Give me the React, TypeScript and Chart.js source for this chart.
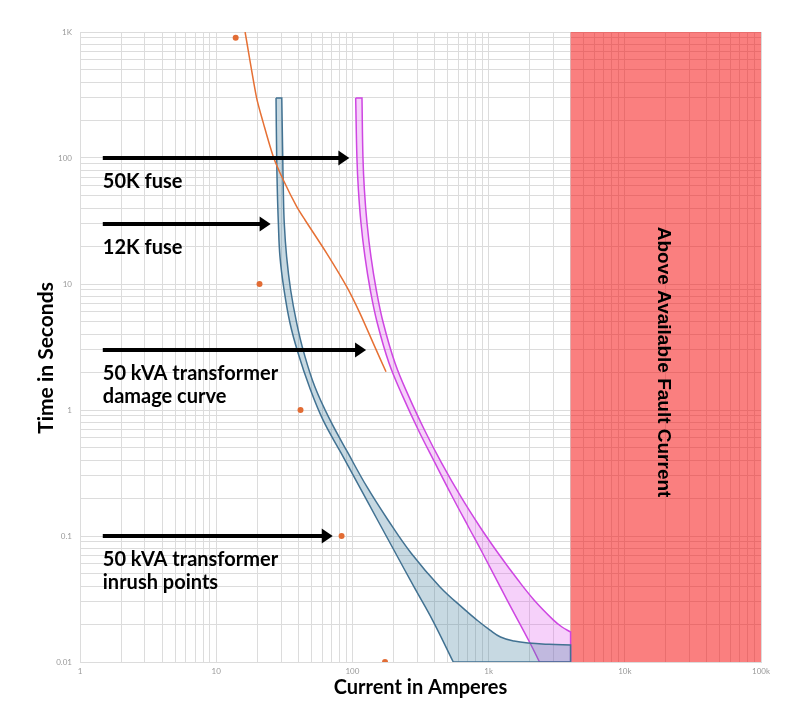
import React, { useEffect, useRef } from 'react';
import { Chart, registerables } from 'chart.js';

Chart.register(...registerables);

// Axis decades and tick labels
const xDecades = [1, 10, 100, 1000, 10000, 100000];
const xTickLabels = ['1', '10', '100', '1k', '10k', '100k'];
const yDecades = [0.01, 0.1, 1, 10, 100, 1000];
const yTickLabels = ['0.01', '0.1', '1', '10', '100', '1K'];
const gridMultipliers = [1, 2, 3, 4, 5, 6, 7, 8, 9];

// 12K fuse: minimum melt (left) and total clearing (right) curves
const fuse12MinI = [27.5, 27.8, 28.1, 28.6, 29.4, 31.5, 34.8, 39.9, 48.4, 60.8, 82.5, 112.8, 152.9, 207.2, 283.4, 387.4, 550.6];
const fuse12MinT = [300, 102, 55.7, 30.5, 16.4, 8.96, 4.9, 2.83, 1.52, 0.834, 0.456, 0.245, 0.134, 0.0733, 0.0394, 0.0215, 0.01];
const fuse12MaxI = [30.3, 30.8, 31.1, 31.6, 32.9, 35.2, 39.0, 44.1, 53.1, 68.5, 92.8, 128, 182.5, 269.3, 439.8, 671, 822, 1024, 1223, 1537, 1947, 2776, 4000];
const fuse12MaxT = [300, 102, 55.7, 30.5, 16.4, 8.96, 4.9, 2.83, 1.52, 0.834, 0.456, 0.245, 0.134, 0.0733, 0.0394, 0.0259, 0.0215, 0.0179, 0.0158, 0.01468, 0.01415, 0.01382, 0.01365];

// 50K fuse
const fuse50MinI = [105.7, 107.9, 110.7, 115.6, 123.7, 135.3, 152.3, 185.6, 235.3, 304.7, 404, 543.1, 711.9, 902.2, 1365, 2014, 2364];
const fuse50MinT = [300, 102, 55.7, 30.5, 16.4, 8.96, 4.9, 2.36, 1.27, 0.694, 0.38, 0.204, 0.1179, 0.0733, 0.0311, 0.01415, 0.01];
const fuse50MaxI = [117.6, 119.5, 122.5, 128.0, 136.9, 149.8, 168.6, 205.5, 260.3, 338.3, 451.1, 627.2, 864.9, 1172, 1644, 2154, 2996, 3458, 4000];
const fuse50MaxT = [300, 102, 55.7, 30.5, 16.4, 8.96, 4.9, 2.36, 1.27, 0.694, 0.38, 0.204, 0.1179, 0.0733, 0.0447, 0.0311, 0.0215, 0.01896, 0.0173];

// 50 kVA transformer damage curve
const damageI = [16.3, 19.8, 22.2, 26.3, 31.1, 39.0, 44.9, 64.8, 90.8, 113.7, 142.4, 176.5];
const damageT = [1000, 300, 189, 102, 66.9, 41.1, 32.2, 17.5, 9.52, 5.85, 3.38, 2.01];

// 50 kVA transformer inrush points
const inrushI = [13.9, 20.8, 41.6, 83.3, 173.6];
const inrushT = [900, 10, 1, 0.1, 0.01];

// Available fault current region
const faultI = [4000, 100000];
const faultT = [0.01, 1000];
const faultLabel = 'Above Available Fault Current';
const faultLabelI = 19000;
const faultLabelT = 2.4;

// Axis titles
const xTitle = 'Current in Amperes';
const yTitle = 'Time in Seconds';

// Annotation arrows
const arrowStartI = 1.47;
const arrowTipI = [95, 25.1, 126, 71.7];
const arrowT = [100, 30, 3, 0.1];
const arrowLabels = [
  ['50K fuse'],
  ['12K fuse'],
  ['50 kVA transformer', 'damage curve'],
  ['50 kVA transformer', 'inrush points'],
];

type P = { x: number; y: number };
const pts = (xs: number[], ys: number[]): P[] => xs.map((v, i) => ({ x: v, y: ys[i] }));

// Closed polygon; corner points are doubled so the spline keeps sharp corners there.
const band = (minI: number[], minT: number[], maxI: number[], maxT: number[]) => {
  const left = pts(minI, minT);
  const right = pts(maxI, maxT).reverse();
  const corner = { x: maxI[maxI.length - 1], y: minT[minT.length - 1] };
  const poly: P[] = [];
  poly.push(left[0]);
  left.forEach((p) => poly.push(p));
  poly.push(left[left.length - 1]);
  poly.push(corner, corner);
  poly.push(right[0]);
  right.forEach((p) => poly.push(p));
  poly.push(right[right.length - 1]);
  poly.push(left[0], left[0]);
  return poly;
};

const gridValues = (decades: number[]) => {
  const out: number[] = [];
  decades.forEach((d, i) => {
    if (i === decades.length - 1) {
      out.push(d);
    } else {
      gridMultipliers.forEach((m) => out.push(parseFloat((m * d).toPrecision(6))));
    }
  });
  return out;
};

const labelFor = (value: number, decades: number[], labels: string[]) => {
  const i = decades.findIndex((d) => Math.abs(value / d - 1) < 1e-6);
  return i >= 0 ? labels[i] : '';
};

const annotationPlugin = {
  id: 'annotations',
  afterDatasetsDraw(chart: any) {
    const { ctx, chartArea } = chart;
    const xs = chart.scales.x;
    const ys = chart.scales.y;
    ctx.save();

    // y axis title
    ctx.save();
    ctx.translate(46, (chartArea.top + chartArea.bottom) / 2 + 11);
    ctx.rotate(-Math.PI / 2);
    ctx.font = 'bold 21px Lato, "Open Sans", sans-serif';
    ctx.fillStyle = '#000';
    ctx.textAlign = 'center';
    ctx.textBaseline = 'middle';
    ctx.fillText(yTitle, 0, 0);
    ctx.restore();

    // fault label
    const fx = xs.getPixelForValue(faultLabelI);
    const fy = ys.getPixelForValue(faultLabelT);
    ctx.save();
    ctx.translate(fx, fy);
    ctx.rotate(Math.PI / 2);
    ctx.font = 'bold 19px "Liberation Sans", Arial, sans-serif';
    ctx.fillStyle = '#000';
    ctx.textAlign = 'center';
    ctx.textBaseline = 'middle';
    ctx.fillText(faultLabel, 0, 0);
    ctx.restore();

    // arrows
    const headLen = 11;
    const headHalf = 7.5;
    arrowTipI.forEach((tip, i) => {
      const x0 = xs.getPixelForValue(arrowStartI);
      const x1 = xs.getPixelForValue(tip);
      const py = ys.getPixelForValue(arrowT[i]);
      ctx.strokeStyle = '#000';
      ctx.fillStyle = '#000';
      ctx.lineWidth = 4;
      ctx.beginPath();
      ctx.moveTo(x0, py);
      ctx.lineTo(x1 - headLen + 1, py);
      ctx.stroke();
      ctx.beginPath();
      ctx.moveTo(x1, py);
      ctx.lineTo(x1 - headLen, py - headHalf);
      ctx.lineTo(x1 - headLen, py + headHalf);
      ctx.closePath();
      ctx.fill();
      ctx.font = 'bold 20px Lato, "Open Sans", sans-serif';
      ctx.textAlign = 'left';
      ctx.textBaseline = 'alphabetic';
      arrowLabels[i].forEach((line, j) => {
        ctx.fillText(line, x0, py + 30 + j * 23);
      });
    });
    ctx.restore();
  },
};

export default function App() {
  const canvasRef = useRef<HTMLCanvasElement | null>(null);

  useEffect(() => {
    if (!canvasRef.current) return;
    const gridColor = '#dcdcdc';
    const tickFont = { size: 8, family: 'Lato, sans-serif' };
    const titleFont = { size: 20, weight: 'bold' as const, family: 'Lato, sans-serif' };
    const chart = new Chart(canvasRef.current, {
      type: 'scatter',
      data: {
        datasets: [
          {
            label: 'Inrush points',
            data: pts(inrushI, inrushT),
            showLine: false,
            pointRadius: 3,
            pointBackgroundColor: 'rgb(226,108,52)',
            pointBorderWidth: 0,
            borderColor: 'rgb(226,108,52)',
          },
          {
            label: 'Damage curve',
            data: pts(damageI, damageT),
            showLine: true,
            pointRadius: 0,
            borderColor: 'rgb(230,112,52)',
            borderWidth: 1.5,
            tension: 0.25,
            fill: false,
          },
          {
            label: '12K fuse',
            data: band(fuse12MinI, fuse12MinT, fuse12MaxI, fuse12MaxT),
            showLine: true,
            pointRadius: 0,
            borderColor: 'rgb(66,114,146)',
            borderWidth: 1.5,
            backgroundColor: 'rgba(70,130,160,0.3)',
            tension: 0.4,
            fill: 'shape',
          },
          {
            label: '50K fuse',
            data: band(fuse50MinI, fuse50MinT, fuse50MaxI, fuse50MaxT),
            showLine: true,
            pointRadius: 0,
            borderColor: 'rgb(206,70,226)',
            borderWidth: 1.5,
            backgroundColor: 'rgba(222,90,238,0.28)',
            tension: 0.4,
            fill: 'shape',
          },
          {
            label: 'Fault region',
            data: [
              { x: faultI[0], y: faultT[0] },
              { x: faultI[0], y: faultT[1] },
              { x: faultI[1], y: faultT[1] },
              { x: faultI[1], y: faultT[0] },
              { x: faultI[0], y: faultT[0] },
            ],
            showLine: true,
            pointRadius: 0,
            borderWidth: 0,
            borderColor: 'rgba(0,0,0,0)',
            backgroundColor: 'rgba(246,0,0,0.5)',
            fill: 'shape',
          },
        ],
      },
      options: {
        animation: false,
        responsive: true,
        maintainAspectRatio: false,
        layout: { padding: { top: 32, right: 39, bottom: 0, left: 0 } },
        plugins: {
          legend: { display: false },
          tooltip: { enabled: false },
        },
        scales: {
          x: {
            type: 'logarithmic',
            min: xDecades[0],
            max: xDecades[xDecades.length - 1],
            afterBuildTicks: (s: any) => {
              s.ticks = gridValues(xDecades).map((v) => ({ value: v }));
            },
            afterFit: (s: any) => {
              s.height = 61;
            },
            ticks: {
              autoSkip: false,
              maxRotation: 0,
              padding: 5,
              font: tickFont,
              color: '#999',
              callback: (v: any) => labelFor(Number(v), xDecades, xTickLabels),
            },
            grid: { color: gridColor, drawTicks: false },
            border: { color: gridColor },
            title: {
              display: true,
              text: xTitle,
              font: titleFont,
              color: '#000',
              padding: { top: 0, bottom: 23 },
            },
          },
          y: {
            type: 'logarithmic',
            min: yDecades[0],
            max: yDecades[yDecades.length - 1],
            afterBuildTicks: (s: any) => {
              s.ticks = gridValues(yDecades).map((v) => ({ value: v }));
            },
            afterFit: (s: any) => {
              s.width = 80;
            },
            ticks: {
              autoSkip: false,
              padding: 8,
              font: tickFont,
              color: '#999',
              callback: (v: any) => labelFor(Number(v), yDecades, yTickLabels),
            },
            grid: { color: gridColor, drawTicks: false },
            border: { color: gridColor },
            title: { display: false },
          },
        },
      },
      plugins: [annotationPlugin],
    });
    return () => chart.destroy();
  }, []);

  return (
    <div style={{ position: 'absolute', left: 0, top: 0, width: 800, height: 723 }}>
      <canvas ref={canvasRef} />
    </div>
  );
}
